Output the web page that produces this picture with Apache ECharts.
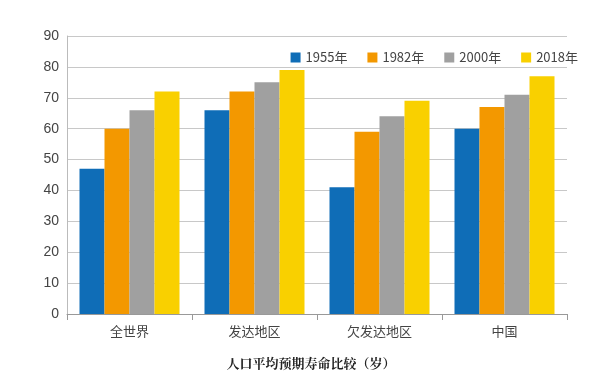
<!DOCTYPE html>
<html>
<head>
<meta charset="utf-8">
<style>
  html, body { margin: 0; padding: 0; background: #fff; }
  #chart { width: 600px; height: 376px; }
</style>
<script src="https://cdn.jsdelivr.net/npm/echarts@6/dist/echarts.min.js"></script>
</head>
<body>
<div id="chart"></div>
<script>
// 地区
var regions = ['全世界', '发达地区', '欠发达地区', '中国']
// 各年份人口平均预期寿命（岁）
var years = ['1955年', '1982年', '2000年', '2018年']
var y1955 = [47, 66, 41, 60]
var y1982 = [60, 72, 59, 67]
var y2000 = [66, 75, 64, 71]
var y2018 = [72, 79, 69, 77]
var colors = ['#0f6db7', '#f39800', '#a0a0a0', '#f9d000']

var chart = echarts.init(document.getElementById('chart'))
var seriesData = [y1955, y1982, y2000, y2018]
var option = {
    animation: false,
    color: colors,
    title: {
        text: '人口平均预期寿命比较（岁）',
        left: 306,
        textAlign: 'center',
        top: 352,
        textStyle: {
            fontFamily: 'Noto Serif CJK SC, Noto Sans CJK SC, serif',
            fontSize: 13,
            fontWeight: 'bold',
            color: '#222',
        },
    },
    legend: {
        data: years,
        top: 46,
        right: 17,
        itemWidth: 10,
        itemHeight: 10,
        itemGap: 20,
        icon: 'rect',
        textStyle: { color: '#444', fontSize: 13, fontFamily: 'Noto Sans CJK SC' },
    },
    grid: {
        left: 67,
        right: 33,
        top: 36,
        bottom: 62,
        containLabel: false,
    },
    xAxis: {
        type: 'category',
        data: regions,
        axisLine: { lineStyle: { color: '#999' } },
        axisTick: { show: true, length: 6, lineStyle: { color: '#999' } },
        axisLabel: { color: '#444', fontSize: 13, margin: 11, fontFamily: 'Noto Sans CJK SC' },
    },
    yAxis: {
        type: 'value',
        min: 0,
        max: 90,
        interval: 10,
        axisLine: { show: true, lineStyle: { color: '#bbb' } },
        axisTick: { show: false },
        axisLabel: { color: '#444', fontSize: 14, margin: 8 },
        splitLine: { lineStyle: { color: '#c8c8c8', width: 1 } },
    },
    series: years.map(function (y, i) {
        return {
            name: y,
            type: 'bar',
            data: seriesData[i],
            barGap: '0%',
            barCategoryGap: '20%',
        }
    }),
}
chart.setOption(option)
</script>
</body>
</html>
